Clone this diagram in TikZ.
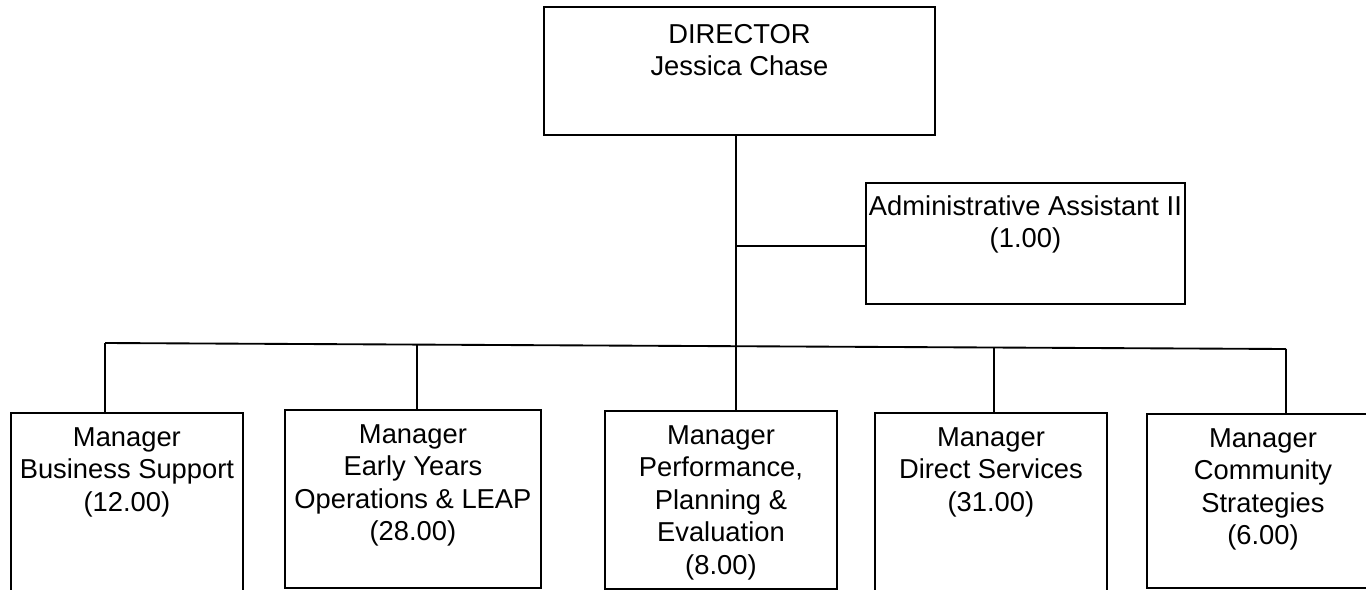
\documentclass[tikz,border=0pt]{standalone}
\usepackage{fontspec}
\setmainfont{Liberation Sans}
\usetikzlibrary{positioning}

\begin{document}
\begin{tikzpicture}[x=0.75pt,y=-0.75pt,
    box/.style 2 args={draw, line width=1.4pt, inner sep=0pt, anchor=north west,
        minimum width=#1*0.75pt, minimum height=#2*0.75pt},
    txt/.style={align=center, anchor=north, inner sep=0pt,
        font=\fontsize{20.5}{24.4}\selectfont},
    link/.style={draw=black, line width=1.4pt}]
\clip (0,0) rectangle (1366,589);

\begin{scope}
    \node[box={391}{128}] (dir) at (543,6) {};
    \node[box={319}{121}] (adm) at (865,182) {};
    \node[box={232}{190}] (m1) at (10,412) {};
    \node[box={256}{178}] (m2) at (284,409) {};
    \node[box={232}{178}] (m3) at (604,410) {};
    \node[box={232}{190}] (m4) at (874,412) {};
    \node[box={232}{174}] (m5) at (1146,413) {};
\end{scope}

\begin{scope}[every node/.style={txt}]
    \node[below=13.5pt of dir.north] (tdir) {DIRECTOR\\Jessica Chase};
    \node[below=9.75pt of adm.north] (tadm) {Administrative Assistant II\\(1.00)};
    \node[below=11.25pt of m1.north] (tm1) {Manager\\Business Support\\(12.00)};
    \node[below=11.25pt of m2.north] (tm2) {Manager\\Early Years\\Operations \& LEAP\\(28.00)};
    \node[below=11.25pt of m3.north] (tm3) {Manager\\Performance,\\Planning \&\\Evaluation\\(8.00)};
    \node[below=11.25pt of m4.north] (tm4) {Manager\\Direct Services\\(31.00)};
    \node[below=11.25pt of m5.north] (tm5) {Manager\\Community\\Strategies\\(6.00)};
\end{scope}

% bus and drops
\coordinate (j1) at (105,343);
\coordinate (j2) at (417,344.5);
\coordinate (j3) at (736,346);
\coordinate (j4) at (994,347.5);
\coordinate (j5) at (1286,349);
\coordinate (ja) at (736,246);

\begin{scope}[every path/.style={link}]
    \path (j1) -- (j5);
    \path (dir.south -| j3) -- (m3.north -| j3);
    \path (ja) -- (ja -| adm.west);
    \path (j1) -- (j1 |- m1.north);
    \path (j2) -- (j2 |- m2.north);
    \path (j4) -- (j4 |- m4.north);
    \path (j5) -- (j5 |- m5.north);
\end{scope}
\end{tikzpicture}
\end{document}
